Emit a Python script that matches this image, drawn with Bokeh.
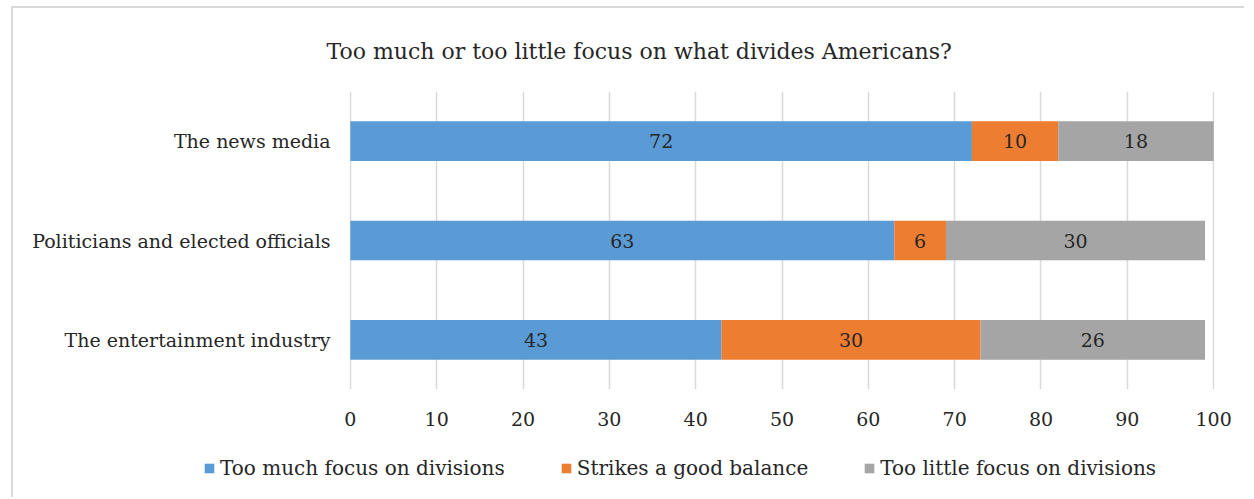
from bokeh.plotting import figure
from bokeh.models import ColumnDataSource, FactorRange, Legend, LegendItem, Range1d
from bokeh.embed import file_html
from bokeh.resources import INLINE
from bokeh.core.properties import value

categories = ["The news media", "Politicians and elected officials", "The entertainment industry"]
too_much = [72, 63, 43]
balance = [10, 6, 30]
too_little = [18, 30, 26]
series_names = ["Too much focus on divisions", "Strikes a good balance", "Too little focus on divisions"]
colors = ["#5B9BD5", "#ED7D31", "#A5A5A5"]
x_ticks = list(range(0, 101, 10))
title_text = "Too much or too little focus on what divides Americans?"

FONT = "DejaVu Serif"
TXT = "#262626"
EDGE = "#d9d9d9"
W = 1233

src = ColumnDataSource(dict(cat=categories, a=too_much, b=balance, c=too_little))

p = figure(width=W, height=437,
           y_range=FactorRange(factors=categories[::-1]),
           x_range=Range1d(-0.1, 100.1),
           output_backend="svg", toolbar_location=None,
           min_border_left=336, min_border_right=32,
           min_border_top=81, min_border_bottom=56)
p.styles = {"border-top": "2px solid " + EDGE, "border-left": "2px solid " + EDGE,
            "margin-left": "11px", "margin-top": "6px"}

renderers = p.hbar_stack(["a", "b", "c"], y="cat", height=0.4, color=colors,
                         line_color=None, source=src)

# segment labels
xs, ys, ts = [], [], []
for i, cat in enumerate(categories):
    left = 0
    for vals in (too_much, balance, too_little):
        v = vals[i]
        xs.append(left + v / 2)
        ys.append(cat)
        ts.append(str(v))
        left += v
lab = ColumnDataSource(dict(x=xs, y=ys, t=ts))
p.text(x="x", y="y", text="t", source=lab, text_align="center", text_baseline="middle",
       text_font=value(FONT), text_font_size="19px", text_color=TXT)

p.title.text = title_text
p.title.align = "left"
p.title.offset = -23
p.title.standoff = 56
p.title.text_font = FONT
p.title.text_font_style = "normal"
p.title.text_font_size = "22px"
p.title.text_color = TXT

p.xaxis.ticker = x_ticks
p.xgrid.ticker = x_ticks
p.xgrid.grid_line_color = EDGE
p.xgrid.grid_line_width = 1.5
p.ygrid.grid_line_color = None
p.outline_line_color = None

for ax in (p.xaxis, p.yaxis):
    ax.axis_line_color = None
    ax.major_tick_line_color = None
    ax.minor_tick_line_color = None
    ax.major_label_text_font = FONT
    ax.major_label_text_font_size = "19px"
    ax.major_label_text_color = TXT
p.xaxis.major_label_standoff = 16
p.yaxis.major_label_standoff = 13

# legend strip (separate root so its frame is not aligned with the chart's)
lg = figure(width=W, height=54, x_range=Range1d(0, 1), y_range=Range1d(0, 1),
            output_backend="svg", toolbar_location=None,
            x_axis_location=None, y_axis_location=None,
            min_border=0, min_border_left=0, min_border_right=0,
            min_border_top=0, min_border_bottom=0)
lg.styles = {"border-left": "2px solid " + EDGE, "margin-left": "11px"}
lg.grid.visible = False
lg.outline_line_color = None
dummy_src = ColumnDataSource(dict(y=[-10], right=[-10]))
dummies = [lg.hbar(y="y", right="right", height=0.5, color=c, line_color=None, source=dummy_src)
           for c in colors]
items = [LegendItem(label=n, renderers=[r]) for n, r in zip(series_names, dummies)]
legend = Legend(items=items, orientation="horizontal", location=(190, 17),
                border_line_color=None, background_fill_alpha=0,
                label_text_font=FONT, label_text_font_size="20px", label_text_color=TXT,
                glyph_width=12, glyph_height=12, spacing=55, label_standoff=5,
                padding=0, margin=0)
lg.add_layout(legend, "center")

open("out.html", "w").write(file_html((p, lg), INLINE))
